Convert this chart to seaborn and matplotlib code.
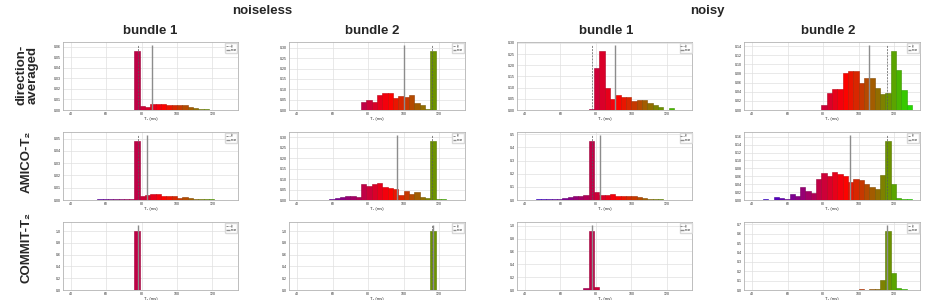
import numpy as np
import pandas as pd
import matplotlib
matplotlib.use("Agg")
import matplotlib.pyplot as plt
import matplotlib.colors as mcolors
from matplotlib.ticker import MultipleLocator, FormatStrFormatter
import seaborn as sns

# histogram bins for T2 (ms), 3 ms wide
bin_edges = list(range(40, 131, 3))
bin_centers = [e + 1.5 for e in bin_edges[:-1]]

row_names = ["direction-\naveraged", "AMICO-T\u2082", "COMMIT-T\u2082"]
col_names = ["bundle 1", "bundle 2", "bundle 1", "bundle 2"]
group_names = ["noiseless", "noisy"]
gt_t2 = [78, 116, 78, 116]

# bin heights, 30 bins each
da_noiseless_b1 = [0, 0, 0, 0, 0, 0, 0, 0, 0, 0, 0, 0, 0.056, 0.0038, 0.003, 0.0054, 0.006, 0.006,
                   0.0048, 0.0048, 0.0048, 0.005, 0.003, 0.002, 0.001, 0.001, 0, 0, 0, 0]
da_noiseless_b2 = [0, 0, 0, 0, 0, 0, 0, 0, 0, 0, 0, 0, 0.038, 0.048, 0.038, 0.07, 0.08, 0.084,
                   0.059, 0.069, 0.061, 0.07, 0.036, 0.023, 0.005, 0.284, 0, 0, 0, 0]
da_noisy_b1 = [0, 0, 0, 0, 0, 0, 0, 0, 0, 0, 0, 0, 0.005, 0.189, 0.263, 0.099, 0.047, 0.066,
               0.056, 0.057, 0.039, 0.045, 0.045, 0.030, 0.0225, 0.015, 0, 0.009, 0, 0]
da_noisy_b2 = [0, 0, 0, 0, 0, 0, 0, 0, 0, 0, 0, 0, 0, 0.012, 0.037, 0.047, 0.047, 0.08,
               0.085, 0.085, 0.059, 0.07, 0.071, 0.049, 0.036, 0.037, 0.129, 0.088, 0.043, 0.011]

amico_noiseless_b1 = [0, 0, 0, 0, 0, 0.0006, 0.0008, 0.0008, 0.001, 0.001, 0.0012, 0.0012, 0.048, 0.0036,
                      0.004, 0.0045, 0.0047, 0.0033, 0.0033, 0.003, 0.0017, 0.0025, 0.002, 0.001, 0.001,
                      0.0008, 0.0005, 0, 0, 0]
amico_noiseless_b2 = [0, 0, 0, 0, 0, 0.002, 0.004, 0.008, 0.013, 0.019, 0.02, 0.015, 0.076, 0.068, 0.078,
                      0.081, 0.06, 0.057, 0.052, 0.026, 0.045, 0.031, 0.036, 0.013, 0.008, 0.282, 0.005,
                      0.005, 0, 0]
amico_noisy_b1 = [0, 0, 0.005, 0.005, 0.008, 0.008, 0.008, 0.016, 0.02, 0.031, 0.028, 0.036, 0.448, 0.062,
                  0.041, 0.041, 0.044, 0.034, 0.031, 0.033, 0.028, 0.02, 0.016, 0.008, 0.008, 0.004,
                  0, 0, 0, 0]
amico_noisy_b2 = [0, 0, 0.0025, 0, 0.007, 0.004, 0.0025, 0.015, 0.011, 0.032, 0.022, 0.017, 0.053, 0.069,
                  0.06, 0.07, 0.065, 0.061, 0.045, 0.053, 0.051, 0.04, 0.032, 0.028, 0.064, 0.149, 0.04,
                  0.004, 0.0025, 0.0017]

commit_noiseless_b1 = [0] * 12 + [1.0] + [0] * 17
commit_noiseless_b2 = [0] * 25 + [1.0] + [0] * 4
commit_noisy_b1 = [0, 0, 0, 0, 0, 0.004, 0.003, 0, 0, 0, 0, 0.037, 0.916, 0.047, 0, 0, 0, 0.004,
                   0.004, 0, 0, 0, 0, 0, 0, 0, 0, 0, 0, 0]
commit_noisy_b2 = [0] * 20 + [0.007, 0, 0.01, 0.01, 0.108, 0.628, 0.184, 0.02, 0.01, 0.004]

heights = [
    [da_noiseless_b1, da_noiseless_b2, da_noisy_b1, da_noisy_b2],
    [amico_noiseless_b1, amico_noiseless_b2, amico_noisy_b1, amico_noisy_b2],
    [commit_noiseless_b1, commit_noiseless_b2, commit_noisy_b1, commit_noisy_b2],
]
mean_t2 = [
    [85.6, 100, 91, 106],
    [83, 96, 82.4, 95],
    [78, 116.5, 78, 116],
]
ytick_step = [
    [0.01, 0.05, 0.05, 0.02],
    [0.01, 0.05, 0.1, 0.02],
    [0.2, 0.2, 0.2, 0.1],
]

sns.set_style("whitegrid")
plt.rcParams["font.family"] = ["Liberation Sans", "DejaVu Sans"]

# blue (short T2) -> red -> green (long T2)
cmap = mcolors.LinearSegmentedColormap.from_list(
    "t2", [(0, "#1a00ff"), (0.547, "#ff0000"), (1, "#00ff00")])
norm = mcolors.Normalize(40, 135)

fig = plt.figure(figsize=(9.37, 3.0), dpi=100)
W, H = 937, 300
col_left = [62.7, 289.3, 517, 744.3]
row_top = [42, 132, 222]
ax_w, ax_h = 175.5, 68

for r in range(3):
    for c in range(4):
        ax = fig.add_axes([col_left[c] / W, 1 - (row_top[r] + ax_h) / H, ax_w / W, ax_h / H])
        vals = np.array(heights[r][c], dtype=float)
        df = pd.DataFrame({"t2": bin_centers, "w": vals})
        sns.histplot(data=df, x="t2", weights="w", bins=bin_edges, ax=ax, alpha=0.95, linewidth=0.4)
        for patch, xc in zip(ax.patches, bin_centers):
            col = np.array(cmap(norm(xc)))
            patch.set_facecolor(col)
            patch.set_edgecolor(col[:3] * 0.8)
        top = vals.max() * 1.1
        ax.vlines([gt_t2[c]], 0, top, colors="0.35", linestyles=(0, (3, 1.5)), lw=0.5, label="gt")
        ax.vlines([mean_t2[r][c]], 0, top, colors="0.55", lw=1.0, label="mean")
        ax.set_xlim(35.5, 134.5)
        ax.set_ylim(0, top * 1.05)
        ax.set_xticks([40, 60, 80, 100, 120])
        step = ytick_step[r][c]
        ax.yaxis.set_major_locator(MultipleLocator(step))
        ax.yaxis.set_major_formatter(FormatStrFormatter("%.1f" if step >= 0.1 else "%.2f"))
        ax.tick_params(labelsize=2.5, length=0, pad=1.5)
        ax.set_ylabel("")
        ax.set_xlabel("T\u2082 (ms)", fontsize=3, labelpad=1)
        ax.grid(lw=0.5, color="0.88")
        for s in ax.spines.values():
            s.set_color("0.7")
            s.set_linewidth(0.6)
        ax.legend(loc="upper right", fontsize=1.8, handlelength=1.4, frameon=True,
                  borderpad=0.3, labelspacing=0.2, handletextpad=0.4, borderaxespad=0.3,
                  framealpha=1, edgecolor="0.85")

title_kw = dict(ha="center", va="center", fontsize=9.5, fontweight="bold")
fig.text(262 / W, 1 - 11 / H, group_names[0], **title_kw)
fig.text(707 / W, 1 - 11 / H, group_names[1], **title_kw)
for x, name in zip([150, 372, 606, 828], col_names):
    fig.text(x / W, 1 - 31 / H, name, **title_kw)
for y, name in zip([75, 162, 248], row_names):
    fig.text(27 / W, 1 - y / H, name, rotation=90, linespacing=0.9, **title_kw)

fig.savefig("out.png", dpi=100)
